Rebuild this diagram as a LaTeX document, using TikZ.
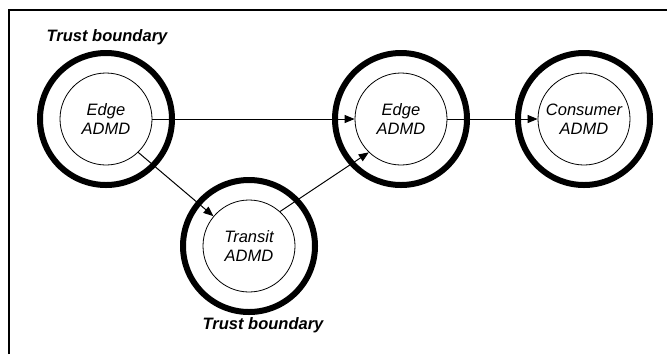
\documentclass[tikz,border=0pt]{standalone}
\usepackage{fontspec}
\setmainfont{Liberation Sans}
\usetikzlibrary{arrows.meta}
\begin{document}
\begin{tikzpicture}[x=1bp,y=-1bp,
  inner/.style={circle,draw,line width=0.8bp,minimum size=92bp,inner sep=0pt,align=center,
    font=\fontsize{16.5bp}{19bp}\selectfont\itshape},
  outer/.style={circle,draw,line width=6bp,minimum size=132bp,inner sep=0pt},
  conn/.style={line width=1bp,-{Triangle[length=10bp,width=8bp]}},
  tb/.style={font=\fontsize{16.5bp}{19bp}\selectfont\bfseries\itshape}]
\useasboundingbox (0,0) rectangle (667,354);
\coordinate (fbl) at (9,354);
\coordinate (ftl) at (9,10);
\coordinate (ftr) at (667,10);
\draw[line width=1.5bp] (fbl) -- (ftl) -- (ftr);
\node[outer] (e1o) at (106,119) {};
\node[inner] (e1) at (106,119) {Edge\\ADMD};
\node[outer] (tro) at (249,246) {};
\node[inner] (tr) at (249,246) {Transit\\ADMD};
\node[outer] (e2o) at (401,119) {};
\node[inner] (e2) at (401,119) {Edge\\ADMD};
\node[outer] (co) at (584,119) {};
\node[inner] (c) at (584,119) {Consumer\\ADMD};
\node[tb] (tb1) at (107,37) {Trust boundary};
\node[tb] (tb2) at (263,325) {Trust boundary};
\draw[conn] (e1.east) -- (e2.west);
\draw[conn] (e2.east) -- (c.west);
\draw[conn] (e1.314) -- (tr.140);
\draw[conn] (tr.48) -- (e2.226);
\end{tikzpicture}
\end{document}
